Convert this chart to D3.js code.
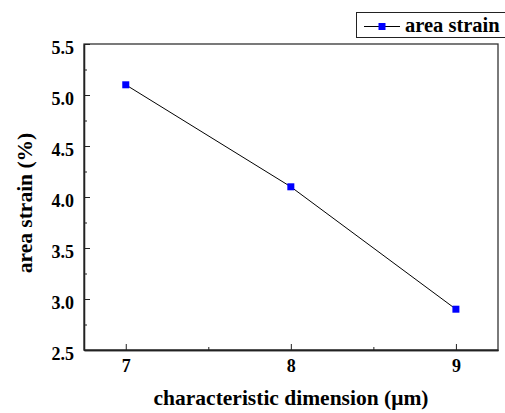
<!DOCTYPE html>
<html><head><meta charset="utf-8">
<script src="https://cdn.jsdelivr.net/npm/d3@7"></script>
<style>body{margin:0;background:#fff}svg{display:block}
svg text{font-family:"Liberation Serif","Times New Roman",serif;font-weight:bold;fill:#000}</style>
</head><body>
<script>
const dims = [7, 8, 9];
const strain = [5.1, 4.1, 2.9];
const yTicks = [2.5, 3.0, 3.5, 4.0, 4.5, 5.0, 5.5];
const xTicks = [7, 8, 9];
const seriesName = "area strain";

const W = 505, H = 413;
const m = {l: 84, r: 7, t: 44, b: 63};
const svg = d3.select("body").append("svg").attr("width", W).attr("height", H);

const x = d3.scaleLinear().domain([6.747, 9.255]).range([m.l, W - m.r]);
const y = d3.scaleLinear().domain([2.5, 5.5]).range([H - m.b, m.t]);

// frame
svg.append("rect").attr("x", m.l).attr("y", m.t)
  .attr("width", W - m.r - m.l).attr("height", H - m.b - m.t)
  .attr("fill", "none").attr("stroke", "#333").attr("stroke-width", 1.3);

// y axis
const yAx = svg.append("g").attr("transform", `translate(${m.l},0)`)
  .call(d3.axisLeft(y).tickValues(yTicks).tickFormat(d3.format(".1f")).tickSizeInner(-6).tickSizeOuter(0).tickPadding(10));
const yMinor = svg.append("g").attr("transform", `translate(${m.l},0)`)
  .call(d3.axisLeft(y).tickValues(d3.range(2.75, 5.5, 0.5)).tickFormat("").tickSizeInner(-3).tickSizeOuter(0));
// x axis
const xAx = svg.append("g").attr("transform", `translate(0,${H - m.b})`)
  .call(d3.axisBottom(x).tickValues(xTicks).tickFormat(d3.format("d")).tickSizeInner(-6).tickSizeOuter(0).tickPadding(9));
const xMinor = svg.append("g").attr("transform", `translate(0,${H - m.b})`)
  .call(d3.axisBottom(x).tickValues([7.5, 8.5]).tickFormat("").tickSizeInner(-3).tickSizeOuter(0));

[yAx, yMinor, xAx, xMinor].forEach(g => {
  g.attr("font-family", null).attr("font-size", null);
  g.select(".domain").attr("stroke", "#222").attr("stroke-width", 1.3);
  g.selectAll(".tick line").attr("stroke", "#222").attr("stroke-width", 1);
  g.selectAll("text").style("font-size", "18px");
});
yAx.selectAll("text").attr("dy", "0.5em");

// line
const pts = dims.map((d, i) => [d, strain[i]]);
svg.append("path").datum(pts)
  .attr("fill", "none").attr("stroke", "#000").attr("stroke-width", 1)
  .attr("d", d3.line().x(d => x(d[0])).y(d => y(d[1])));
svg.selectAll("rect.pt").data(pts).enter().append("rect").attr("class", "pt")
  .attr("x", d => x(d[0]) - 3.5).attr("y", d => y(d[1]) - 3.5)
  .attr("width", 7).attr("height", 7).attr("fill", "#0000ff");

// axis titles
svg.append("text").attr("x", 291).attr("y", 405)
  .attr("text-anchor", "middle").style("font-size", "21.5px").text("characteristic dimension (μm)");
svg.append("text").attr("transform", `translate(32,203) rotate(-90)`)
  .attr("text-anchor", "middle").style("font-size", "21.5px").text("area strain (%)");

// legend
const lg = svg.append("g");
lg.append("rect").attr("x", 356.5).attr("y", 12.5).attr("width", 160).attr("height", 25)
  .attr("fill", "#fff").attr("stroke", "#222").attr("stroke-width", 1);
lg.append("line").attr("x1", 364).attr("x2", 400).attr("y1", 26.5).attr("y2", 26.5)
  .attr("stroke", "#000").attr("stroke-width", 1);
lg.append("rect").attr("x", 378.5).attr("y", 23).attr("width", 7).attr("height", 7).attr("fill", "#0000ff");
lg.append("text").attr("x", 405).attr("y", 32).style("font-size", "20.5px").text(seriesName);
</script>
</body></html>
